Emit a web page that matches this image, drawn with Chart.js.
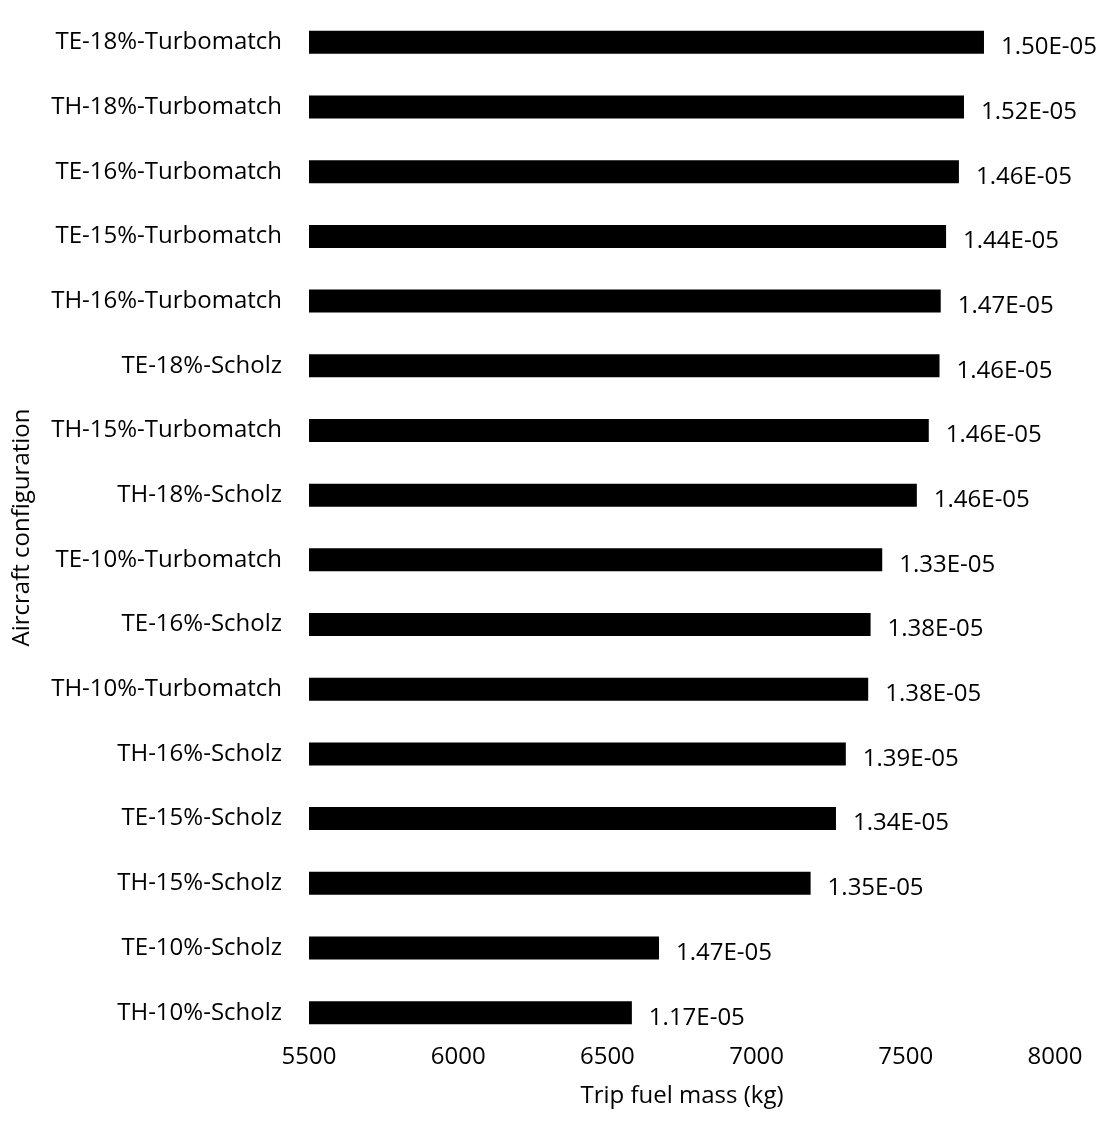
<!DOCTYPE html>
<html>
<head>
<meta charset="utf-8">
<title>Trip fuel mass by aircraft configuration</title>
<script src="https://cdn.jsdelivr.net/npm/chart.js@4"></script>
<style>
    body { margin: 0; background: #fff; }
    #wrap { width: 1104px; height: 1140px; }
</style>
</head>
<body>
<div id="wrap"><canvas id="chartFuel"></canvas></div>
<script>
const configs = [
    "TE-18%-Turbomatch", "TH-18%-Turbomatch", "TE-16%-Turbomatch", "TE-15%-Turbomatch",
    "TH-16%-Turbomatch", "TE-18%-Scholz", "TH-15%-Turbomatch", "TH-18%-Scholz",
    "TE-10%-Turbomatch", "TE-16%-Scholz", "TH-10%-Turbomatch", "TH-16%-Scholz",
    "TE-15%-Scholz", "TH-15%-Scholz", "TE-10%-Scholz", "TH-10%-Scholz"
];
const tripFuel = [
    7762, 7695, 7678, 7635, 7617, 7613, 7577, 7537,
    7421, 7382, 7374, 7299, 7266, 7181, 6673, 6582
];
const barLabels = [
    "1.50E-05", "1.52E-05", "1.46E-05", "1.44E-05", "1.47E-05", "1.46E-05", "1.46E-05", "1.46E-05",
    "1.33E-05", "1.38E-05", "1.38E-05", "1.39E-05", "1.34E-05", "1.35E-05", "1.47E-05", "1.17E-05"
];
const xTicks = [5500, 6000, 6500, 7000, 7500, 8000];

const FONT = "'Open Sans', sans-serif";
const SIZE = 24;

// writes the text labels just past the end of each bar
const endLabels = {
    id: 'endLabels',
    afterDatasetsDraw(chart) {
        const ctx = chart.ctx;
        const meta = chart.getDatasetMeta(0);
        ctx.save();
        ctx.font = SIZE + "px " + FONT;
        ctx.fillStyle = "#000";
        ctx.textAlign = "left";
        ctx.textBaseline = "middle";
        meta.data.forEach((bar, i) => {
            ctx.fillText(barLabels[i], bar.x + 17, bar.y + 5);
        });
        ctx.restore();
    }
};

window.addEventListener('DOMContentLoaded', () => {
    const chartFuel = new Chart("chartFuel", {
        type: "bar",
        data: {
            labels: configs,
            datasets: [{
                data: tripFuel,
                backgroundColor: "#000",
                barPercentage: 0.355,
                categoryPercentage: 1
            }]
        },
        options: {
            indexAxis: 'y',
            responsive: true,
            maintainAspectRatio: false,
            animation: false,
            layout: { padding: { top: 10, right: 49, bottom: 0, left: 0 } },
            plugins: {
                legend: { display: false },
                tooltip: { enabled: true }
            },
            scales: {
                x: {
                    min: 5500,
                    max: 8000,
                    afterBuildTicks: (scale) => { scale.ticks = xTicks.map(v => ({ value: v })); },
                    grid: { display: false, drawTicks: false },
                    border: { display: false },
                    // lineHeight 1 keeps the tick labels tight under the bars
                    ticks: { color: "#000", font: { family: FONT, size: SIZE, lineHeight: 1 }, padding: 0,
                             maxRotation: 0, callback: (v) => String(v) },
                    title: { display: true, text: "Trip fuel mass (kg)", color: "#000",
                             font: { family: FONT, size: SIZE }, padding: { top: 0, bottom: 29 } },
                    afterFit: (scale) => { scale.height = 95; }
                },
                y: {
                    grid: { display: false, drawTicks: false },
                    border: { display: false },
                    ticks: { color: "#000", font: { family: FONT, size: SIZE }, padding: 27, autoSkip: false },
                    title: { display: true, text: "Aircraft configuration", color: "#000",
                             font: { family: FONT, size: SIZE }, padding: { top: 8, bottom: 0 } },
                    afterFit: (scale) => {
                        scale.width = 309;
                        scale.paddingTop = 0;
                        scale.paddingBottom = 0;
                    }
                }
            }
        },
        plugins: [endLabels]
    });
});
</script>
</body>
</html>
